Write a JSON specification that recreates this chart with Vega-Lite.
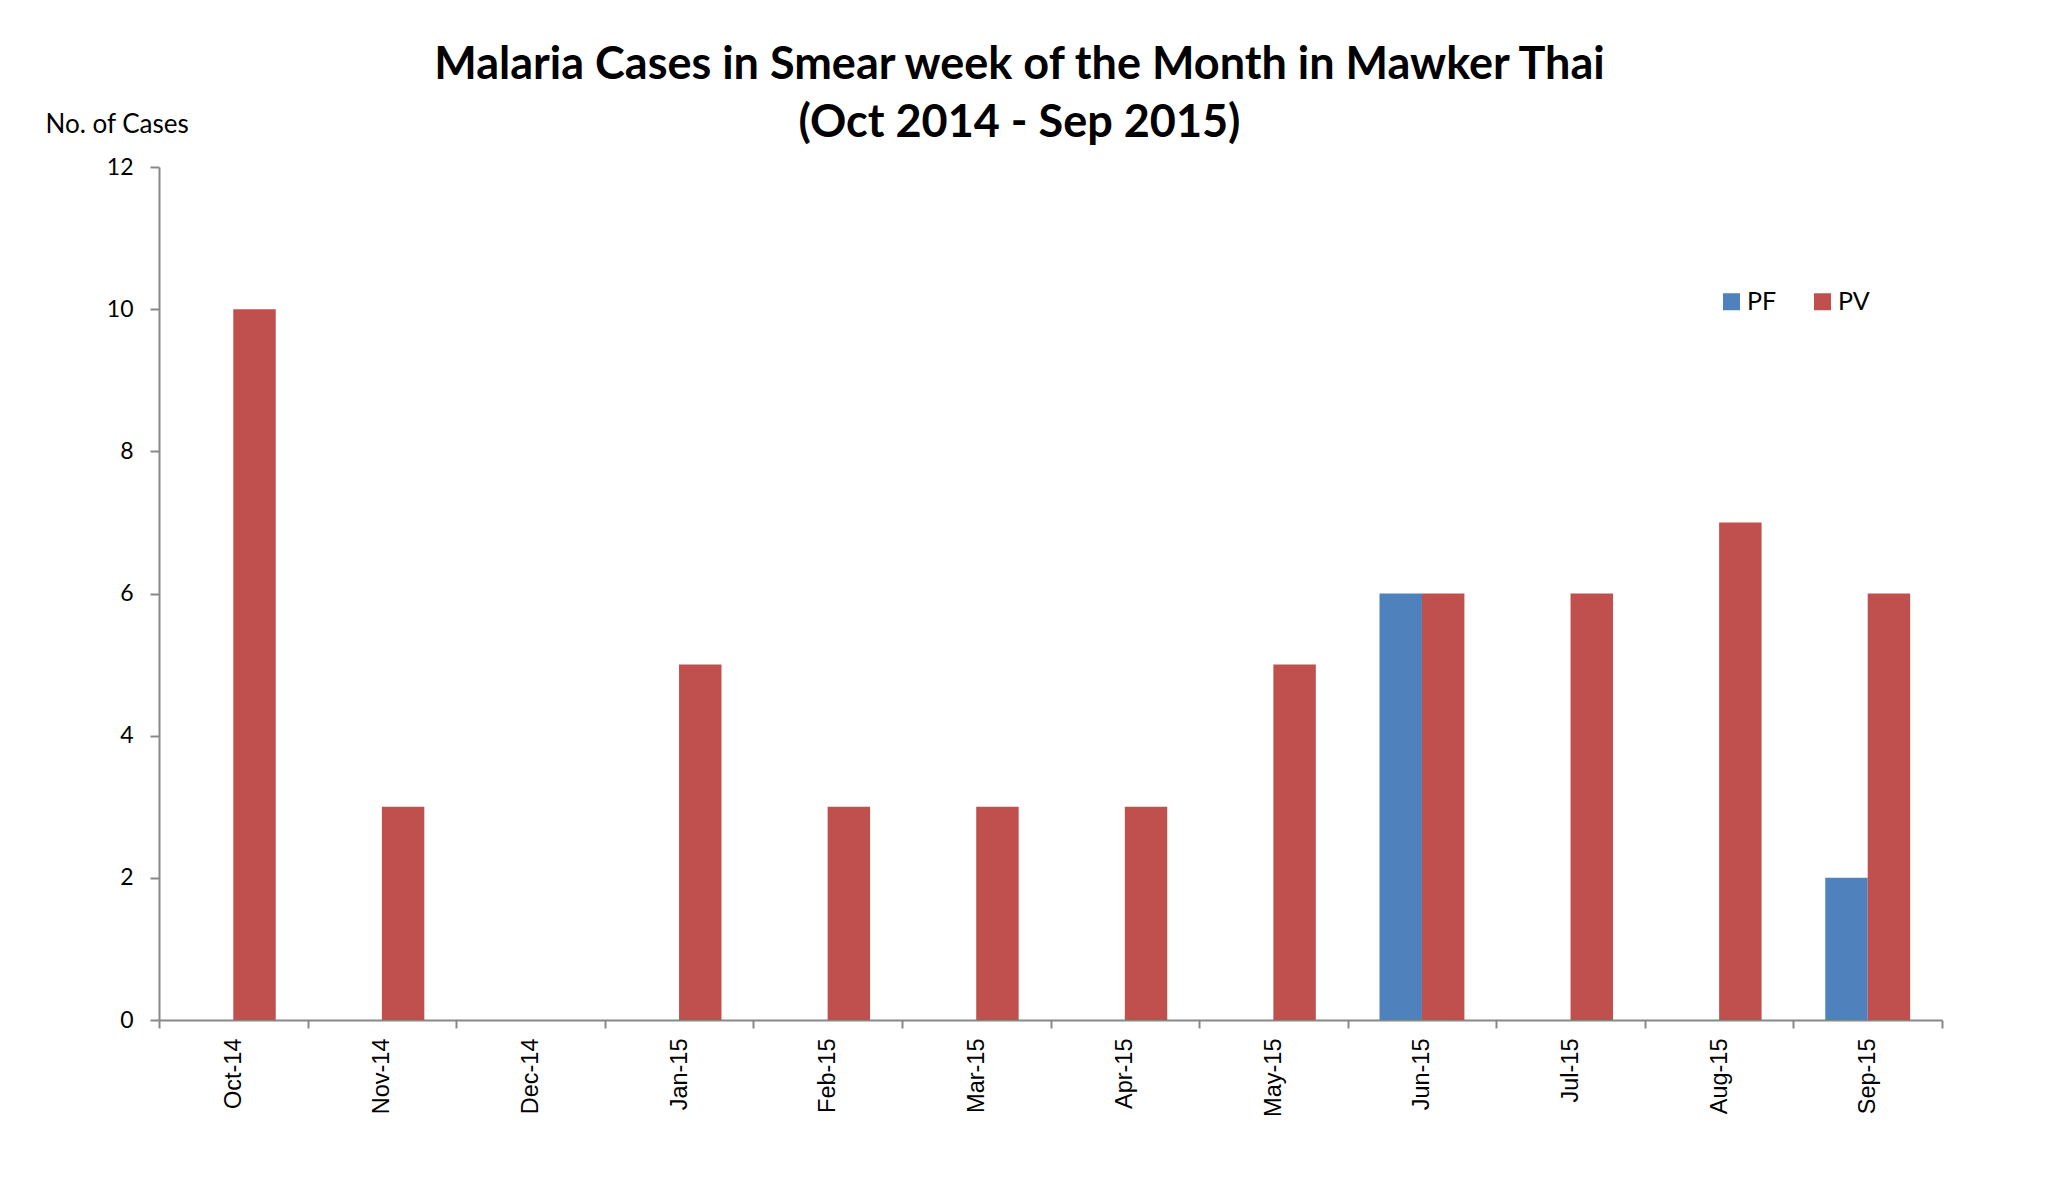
{
  "$schema": "https://vega.github.io/schema/vega-lite/v6.json",
  "width": 1783,
  "height": 853,
  "autosize": {"type": "none"},
  "padding": {"left": 159, "top": 167, "right": 104, "bottom": 168},
  "background": "white",
  "title": {
    "text": ["Malaria Cases in Smear week of the Month in Mawker Thai", "(Oct 2014 - Sep 2015)"],
    "font": "Lato",
    "fontSize": 45,
    "fontWeight": "bold",
    "color": "black",
    "lineHeight": 58,
    "anchor": "middle",
    "frame": "group",
    "dx": -31,
    "dy": 45,
    "offset": 10
  },
  "data": {
    "values": [
      {"month": "Oct-14", "type": "PF", "cases": 0},
      {"month": "Oct-14", "type": "PV", "cases": 10},
      {"month": "Nov-14", "type": "PF", "cases": 0},
      {"month": "Nov-14", "type": "PV", "cases": 3},
      {"month": "Dec-14", "type": "PF", "cases": 0},
      {"month": "Dec-14", "type": "PV", "cases": 0},
      {"month": "Jan-15", "type": "PF", "cases": 0},
      {"month": "Jan-15", "type": "PV", "cases": 5},
      {"month": "Feb-15", "type": "PF", "cases": 0},
      {"month": "Feb-15", "type": "PV", "cases": 3},
      {"month": "Mar-15", "type": "PF", "cases": 0},
      {"month": "Mar-15", "type": "PV", "cases": 3},
      {"month": "Apr-15", "type": "PF", "cases": 0},
      {"month": "Apr-15", "type": "PV", "cases": 3},
      {"month": "May-15", "type": "PF", "cases": 0},
      {"month": "May-15", "type": "PV", "cases": 5},
      {"month": "Jun-15", "type": "PF", "cases": 6},
      {"month": "Jun-15", "type": "PV", "cases": 6},
      {"month": "Jul-15", "type": "PF", "cases": 0},
      {"month": "Jul-15", "type": "PV", "cases": 6},
      {"month": "Aug-15", "type": "PF", "cases": 0},
      {"month": "Aug-15", "type": "PV", "cases": 7},
      {"month": "Sep-15", "type": "PF", "cases": 2},
      {"month": "Sep-15", "type": "PV", "cases": 6}
    ]
  },
  "mark": {"type": "bar"},
  "encoding": {
    "x": {
      "field": "month",
      "type": "nominal",
      "sort": null,
      "scale": {"paddingInner": 0, "paddingOuter": 0},
      "axis": {
        "title": null,
        "labelAngle": -90,
        "labelFont": "Liberation Sans",
        "labelFontSize": 23.5,
        "labelColor": "black",
        "labelPadding": 10,
        "tickBand": "extent",
        "tickSize": 8,
        "tickColor": "#888888",
        "tickWidth": 2,
        "domainColor": "#888888",
        "domainWidth": 2
      }
    },
    "xOffset": {
      "field": "type",
      "type": "nominal",
      "scale": {"paddingInner": 0, "paddingOuter": 0.75}
    },
    "y": {
      "field": "cases",
      "type": "quantitative",
      "scale": {"domain": [0, 12]},
      "axis": {
        "values": [0, 2, 4, 6, 8, 10, 12],
        "grid": false,
        "title": "No. of Cases",
        "titleAngle": 0,
        "titleX": -114,
        "titleY": -35,
        "titleAlign": "left",
        "titleBaseline": "alphabetic",
        "titleFont": "Lato",
        "titleFontSize": 26,
        "titleFontWeight": "normal",
        "titleColor": "black",
        "labelFont": "Lato",
        "labelFontSize": 23,
        "labelColor": "black",
        "labelPadding": 17,
        "tickSize": 9,
        "tickColor": "#888888",
        "tickWidth": 2,
        "domainColor": "#888888",
        "domainWidth": 2
      }
    },
    "color": {
      "field": "type",
      "type": "nominal",
      "scale": {"domain": ["PF", "PV"], "range": ["#4F81BD", "#C0504D"]},
      "legend": {
        "title": null,
        "orient": "none",
        "legendX": 1560,
        "legendY": 122,
        "direction": "horizontal",
        "symbolType": "square",
        "symbolSize": 289,
        "symbolStrokeWidth": 0,
        "symbolOpacity": 1,
        "labelFont": "Lato",
        "labelFontSize": 25,
        "labelColor": "black",
        "labelOffset": 3,
        "columnPadding": 33
      }
    }
  },
  "config": {"view": {"stroke": null}}
}
